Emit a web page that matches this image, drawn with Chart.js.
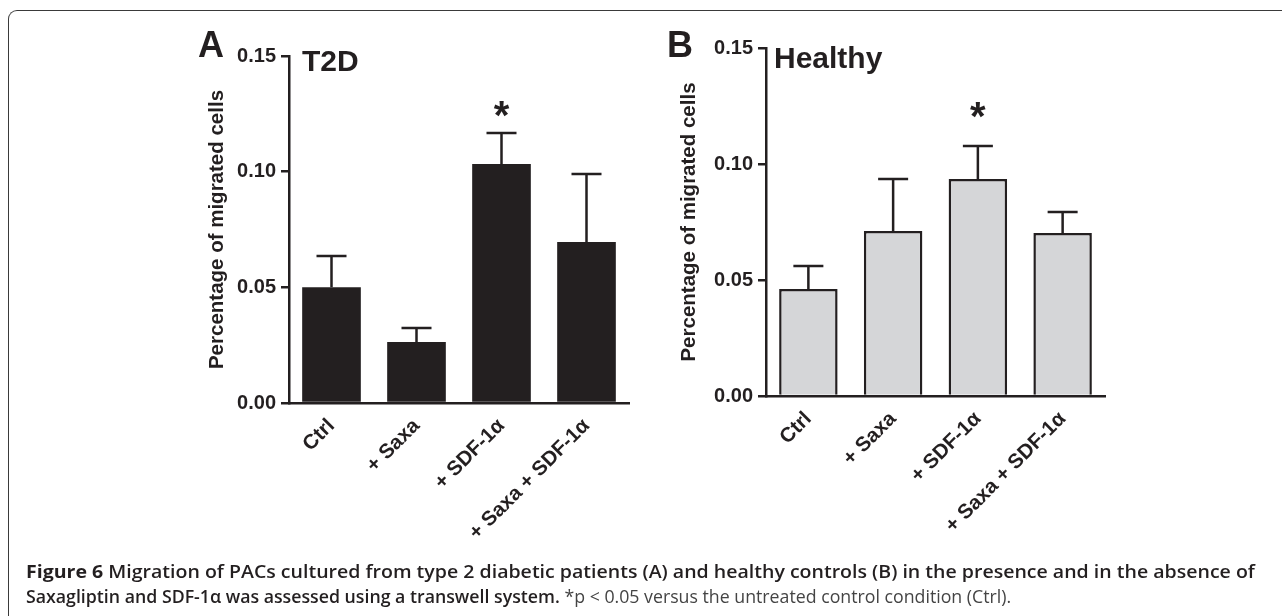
<!DOCTYPE html>
<html>
<head>
<meta charset="utf-8">
<script src="https://cdn.jsdelivr.net/npm/chart.js@4.4.1/dist/chart.umd.min.js"></script>
<style>
  body { margin: 0; width: 1282px; height: 616px; overflow: hidden; position: relative; background: #fff;
         font-family: "Liberation Sans", Arial, sans-serif; color: #231f20; }
  .frame { position: absolute; left: 8px; top: 10px; width: 1300px; height: 640px;
           border-top: 1.5px solid #3a3a3a; border-left: 1.5px solid #3a3a3a; border-top-left-radius: 9px; }
  .panel { position: absolute; top: 0; }
  .letter { position: absolute; font-weight: bold; font-size: 36px; line-height: 1; }
  .title { position: absolute; font-weight: bold; font-size: 30px; line-height: 1; }
  .cap { position: absolute; left: 26px; white-space: nowrap; transform-origin: 0 0;
         font-family: "Open Sans", sans-serif; font-size: 17.5px; line-height: 1; }
  .cap b { font-weight: 700; }
  .cap .t { font-weight: 600; }
  .cap .r { font-weight: 400; color: #444; }
</style>
</head>
<body>
<div class="frame"></div>

<canvas id="chartA" class="panel" width="470" height="560" style="left:180px"></canvas>
<canvas id="chartB" class="panel" width="470" height="560" style="left:660px"></canvas>

<div class="letter" style="left:198px; top:27px">A</div>
<div class="title" style="left:302px; top:46px">T2D</div>
<div class="letter" style="left:667px; top:27px">B</div>
<div class="title" style="left:774px; top:43px">Healthy</div>

<div class="cap" id="cap1" style="top:563px"><b>Figure 6</b> <span class="t">Migration of PACs cultured from type 2 diabetic patients (A) and healthy controls (B) in the presence and in the absence of</span></div>
<div class="cap" id="cap2" style="top:588px"><span class="t">Saxagliptin and SDF-1α was assessed using a transwell system.</span> <span class="r">*p &lt; 0.05 versus the untreated control condition (Ctrl).</span></div>

<script>
const categories = ["Ctrl", "+ Saxa", "+ SDF-1α", "+ Saxa + SDF-1α"];
const t2dMeans = [0.050, 0.0264, 0.1033, 0.0696];
const t2dErr = [0.0135, 0.0060, 0.0134, 0.0294];
const t2dStars = ["", "", "*", ""];
const healthyMeans = [0.0461, 0.0711, 0.0935, 0.0703];
const healthyErr = [0.0099, 0.0224, 0.0143, 0.0090];
const healthyStars = ["", "", "*", ""];
const yTicks = [0, 0.05, 0.10, 0.15];

const ink = "#231f20";
const fam = '"Liberation Sans", Arial, sans-serif';

// upper error whiskers + significance stars
const errorBars = {
  id: "errorBars",
  afterDatasetsDraw(chart, args, opts) {
    const ctx = chart.ctx;
    const y = chart.scales.y;
    const meta = chart.getDatasetMeta(0);
    const vals = chart.data.datasets[0].data;
    ctx.save();
    ctx.strokeStyle = ink;
    ctx.lineWidth = 2.5;
    meta.data.forEach((bar, i) => {
      const base = y.getPixelForValue(vals[i]);
      const top = y.getPixelForValue(vals[i] + opts.err[i]);
      ctx.beginPath();
      ctx.moveTo(bar.x, base);
      ctx.lineTo(bar.x, top);
      ctx.moveTo(bar.x - 15, top);
      ctx.lineTo(bar.x + 15, top);
      ctx.stroke();
      if (opts.stars[i]) {
        ctx.fillStyle = ink;
        ctx.font = "bold 40px " + fam;
        ctx.textAlign = "center";
        ctx.textBaseline = "alphabetic";
        ctx.fillText(opts.stars[i], bar.x, y.getPixelForValue(opts.starAt) + 22);
      }
    });
    ctx.restore();
  }
};

function makeChart(id, means, errs, stars, starAt, fill, bw, axisW, titlePad, pad) {
  return new Chart(document.getElementById(id), {
    type: "bar",
    data: {
      labels: categories,
      datasets: [{
        data: means,
        backgroundColor: fill,
        borderColor: ink,
        borderWidth: bw,
        borderSkipped: "start",
        barPercentage: 0.69,
        categoryPercentage: 1
      }]
    },
    options: {
      responsive: false,
      animation: false,
      devicePixelRatio: 1,
      layout: { padding: pad },
      plugins: {
        legend: { display: false },
        tooltip: { enabled: false },
        errorBars: { err: errs, stars: stars, starAt: starAt }
      },
      scales: {
        x: {
          offset: true,
          grid: { display: false, drawTicks: false },
          border: { color: ink, width: 2.5 },
          ticks: {
            autoSkip: false, minRotation: 45, maxRotation: 45, padding: 11, color: ink,
            font: { family: fam, size: 20.5, weight: "bold" }
          },
          afterFit: s => { s.height = 140; }
        },
        y: {
          min: 0,
          max: 0.15,
          afterBuildTicks: s => { s.ticks = yTicks.map(v => ({ value: v })); },
          ticks: {
            padding: 5, color: ink,
            callback: v => v.toFixed(2),
            font: { family: fam, size: 20, weight: "bold" }
          },
          grid: { drawOnChartArea: false, drawTicks: true, tickLength: 8, color: ink, lineWidth: 2.5 },
          border: { color: ink, width: 2.5 },
          title: {
            display: true, text: "Percentage of migrated cells", color: ink,
            font: { family: fam, size: 20.5, weight: "bold" },
            padding: { top: titlePad, bottom: 0 }
          },
          afterFit: s => { s.width = axisW; }
        }
      }
    },
    plugins: [errorBars]
  });
}

makeChart("chartA", t2dMeans, t2dErr, t2dStars, 0.128, ink, 0, 109, 25, 
  { top: 56, bottom: 17, left: 0, right: 21 });
makeChart("chartB", healthyMeans, healthyErr, healthyStars, 0.124, "#d5d6d8", 2.5, 106, 17.5,
  { top: 48, bottom: 24, left: 0, right: 25 });

// squeeze caption lines to the condensed width of the original
const c1 = document.getElementById("cap1");
const c2 = document.getElementById("cap2");
c1.style.transform = "scaleX(" + (1229 / c1.scrollWidth) + ")";
c2.style.transform = "scaleX(" + (985 / c2.scrollWidth) + ")";
</script>
</body>
</html>
